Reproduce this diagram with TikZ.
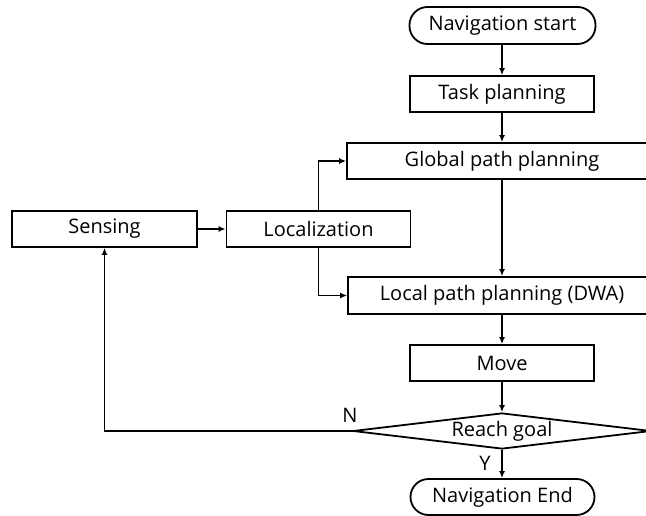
\documentclass[tikz,border=0pt]{standalone}
\usepackage{fontspec}
\setmainfont{Open Sans}
\usetikzlibrary{arrows.meta,shapes.geometric}
\begin{document}
\begin{tikzpicture}[x=1pt,y=-1pt,
  every node/.style={font=\fontsize{20}{24}\selectfont},
  box/.style={draw,line width=1.8pt,inner sep=0pt,minimum height=36pt},
  term/.style={box,rounded corners=18pt,minimum width=186pt},
  dec/.style={draw,line width=1.8pt,diamond,inner sep=0pt,aspect=8,minimum width=298pt,minimum height=36pt},
  conn/.style={line width=1.8pt,-{Latex[length=7pt,width=6pt]}},
  lab/.style={inner sep=0pt}]
\useasboundingbox (0,0) rectangle (646,516);
\node[term,minimum height=37pt] (start) at (502.5,25.5) {Navigation start};
\node[box,minimum width=184pt] (task) at (502,94) {Task planning};
\node[box,minimum width=310pt] (global) at (502,161) {Global path planning};
\node[box,minimum width=185pt] (sense) at (104.5,229) {Sensing};
\node[box,minimum width=184pt] (loc) at (318.5,229) {Localization};
\node[box,minimum width=308pt,minimum height=37pt] (local) at (502,295.5) {Local path planning (DWA)};
\node[box,minimum width=184pt] (move) at (502,363) {Move};
\node[dec] (goal) at (502,431) {Reach goal};
\node[term,minimum width=184pt] (end) at (502.5,497) {Navigation End};
\node[lab] (nlab) at (350,415) {N};
\node[lab] (ylab) at (485,463) {Y};
\draw[conn] (start.south -| task.north) -- (task.north);
\draw[conn] (task.south) -- (global.north);
\draw[conn] (global.south) -- (local.north);
\draw[conn] (local.south) -- (move.north);
\draw[conn] (move.south) -- (goal.north);
\draw[conn] (goal.south) -- (goal.south |- end.north);
\draw[conn] (sense.east) -- (loc.west);
\draw[conn] (loc.north) |- (global.west);
\draw[conn] (loc.south) |- (local.west);
\draw[conn] (goal.west) -| (sense.south);
\end{tikzpicture}
\end{document}
